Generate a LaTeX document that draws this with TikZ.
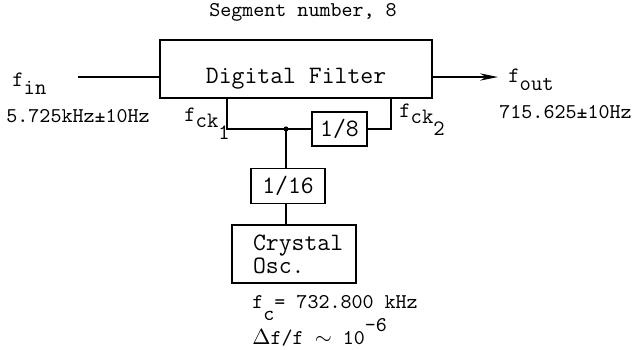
\documentclass[tikz,border=0pt]{standalone}
\usepackage{fontspec}
\usepackage{tikz}
\usetikzlibrary{arrows.meta,positioning}
\newcommand{\dn}[2][4pt]{\raisebox{-#1}{#2}}
\newcommand{\up}[1]{\raisebox{6.5pt}{#1}}

\begin{document}
\begin{tikzpicture}[
    x=0.5pt, y=-0.5pt,
    blk/.style={rectangle, draw, line width=0.8pt, inner sep=0pt, font=\ttfamily\fontsize{12.5}{11.5}\selectfont},
    lbl/.style={inner sep=0pt, font=\ttfamily\fontsize{10.5}{12}\selectfont},
    sig/.style={inner sep=0pt, font=\ttfamily\fontsize{11}{12}\selectfont},
    wire/.style={line width=0.8pt},
    arrow/.style={wire, -{Stealth[length=9pt, width=3.6pt, inset=3pt]}}
]
\useasboundingbox (0,0) rectangle (636,349);

\node[lbl] (seg) at (303,12) {Segment number, 8};

\node[blk, minimum width=136pt, text height=21.5pt, text depth=7.5pt] (filter) at (296,69) {Digital Filter};
\node[blk, minimum width=27.5pt, minimum height=17pt] (div8) at (339.5,129) {1/8};
\node[blk, minimum width=37pt, minimum height=17.5pt] (div16) at (288,186) {1/16};
\node[blk, minimum width=62pt, minimum height=29pt, text width=41pt, align=left] (osc) at (294,254) {Crystal\\Osc.};

\node[sig, anchor=base west] (fin) at (12,86) {f\dn{in}};
\node[lbl, anchor=base west] (finval) at (6,122) {5.725kHz±10Hz};
\node[sig, anchor=base west] (fout) at (508,82) {f\dn{out}};
\node[lbl, anchor=base west] (foutval) at (499,118) {715.625±10Hz};
\node[sig, anchor=base west] (ck1) at (184,121) {f\dn[3pt]{ck\dn[6pt]{1}}};
\node[sig, anchor=base west] (ck2) at (399,117) {f\dn[3pt]{ck\dn[6pt]{2}}};
\node[lbl, anchor=base west] (fc) at (252,308) {f\dn[6pt]{c}= 732.800 kHz};
\node[lbl, anchor=base west] (df) at (252,344) {$\Delta$f/f $\sim$ 10\up{-6}};

\coordinate (inp) at (78,77);
\coordinate (outp) at (498,77);
\coordinate (jn) at (286,129);

\draw[wire] (inp) -- (inp -| filter.west);
\draw[arrow] (filter.east |- outp) -- (outp);
\draw[wire] (jn) -| ([xshift=34pt]filter.south west);
\draw[wire] (jn) -- (div8);
\draw[wire] (div8.east) -| ([xshift=-21pt]filter.south east);
\draw[wire] (jn) -- (jn |- div16.north);
\draw[wire] (div16.south -| jn) -- (jn |- osc.north);
\fill (jn) circle (1.3pt);

\end{tikzpicture}
\end{document}
